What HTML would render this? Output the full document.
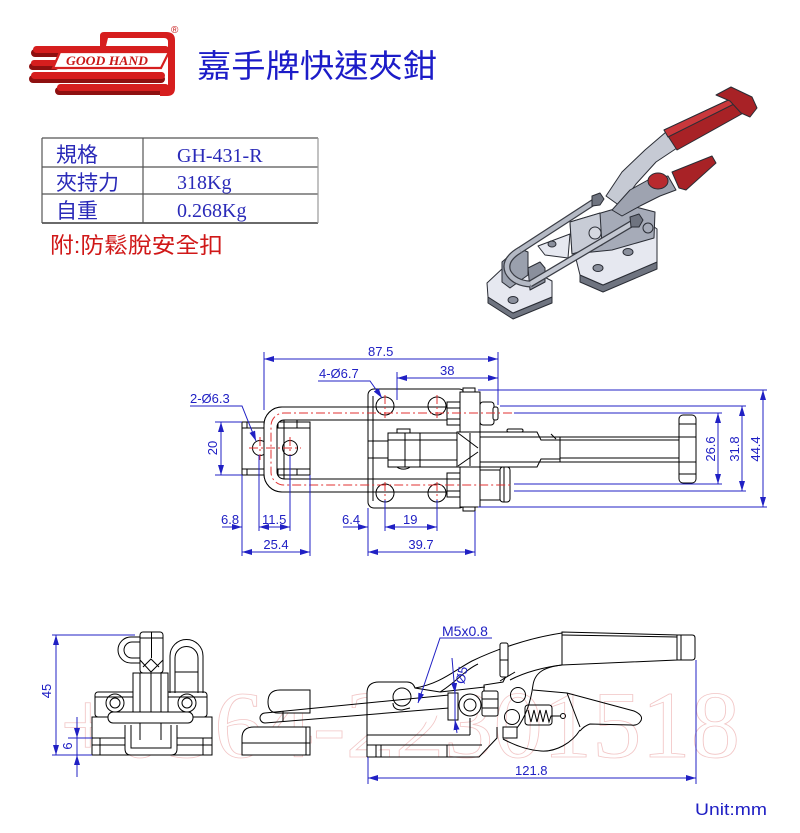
<!DOCTYPE html>
<html><head><meta charset="utf-8"><style>
html,body{margin:0;padding:0;background:#fff;}
svg{display:block;}
.d{font-family:"Liberation Sans",sans-serif;font-size:13px;fill:#2020c4;}
</style></head><body>
<svg width="800" height="833" viewBox="0 0 800 833" xmlns="http://www.w3.org/2000/svg">
<defs>
<marker id="a" viewBox="0 0 10 6" refX="10" refY="3" markerWidth="10" markerHeight="6" markerUnits="userSpaceOnUse" orient="auto-start-reverse"><path d="M0,0 L10,3 L0,6 Z" fill="#2020c4"/></marker>
</defs>
<rect width="800" height="833" fill="#fff"/>

<!-- faint watermark digits -->
<text x="60" y="757" font-family="Liberation Serif,serif" font-size="95" fill="none" stroke="#f2c6c6" stroke-width="0.8" textLength="680" lengthAdjust="spacingAndGlyphs">+0564-22301518</text>

<!-- LOGO -->
<g>
 <g fill="#8e1010">
  <rect x="31" y="49" width="138" height="8" rx="4"/>
  <rect x="29" y="63" width="30" height="7" rx="3.5"/>
  <rect x="29" y="75" width="136" height="8" rx="4"/>
  <rect x="55" y="87" width="114" height="8" rx="4"/>
 </g>
 <g fill="#d61e1e">
  <rect x="33" y="46" width="136" height="7" rx="3.5"/>
  <rect x="31" y="60" width="28" height="6" rx="3"/>
  <rect x="31" y="72" width="134" height="7" rx="3.5"/>
  <rect x="57" y="84" width="112" height="7" rx="3.5"/>
  <path d="M100,46 L100,36 Q100,32 104,32 L166,32 Q175,32 175,40 L175,88 Q175,96 167,96 L160,96 L160,90 L168,88 L168,42 Q168,38 164,38 L108,38 L106,46 Z"/>
 </g>
 <path d="M60,52 L169,52 L161,68 L53,68 Z" fill="#fff" stroke="#d61e1e" stroke-width="2.2"/>
 <text x="66" y="65" font-family="Liberation Serif,serif" font-style="italic" font-weight="bold" font-size="12.5" fill="#c81818" textLength="82" lengthAdjust="spacingAndGlyphs">GOOD HAND</text>
 <text x="171" y="33" font-family="Liberation Sans,sans-serif" font-size="10" fill="#c81818">®</text>
</g>
<text x="197" y="77" font-family="'Liberation Sans','Noto Sans CJK TC',sans-serif" font-size="32" fill="#1c1cc8" textLength="240" lengthAdjust="spacingAndGlyphs">嘉手牌快速夾鉗</text>

<!-- TABLE -->
<g stroke="#555" stroke-width="1.2" fill="none">
 <line x1="42" y1="138" x2="318" y2="138"/>
 <line x1="42" y1="167" x2="318" y2="167"/>
 <line x1="42" y1="194" x2="318" y2="194"/>
 <line x1="42" y1="223" x2="318" y2="223" stroke-width="1.8"/>
 <line x1="42" y1="138" x2="42" y2="223"/>
 <line x1="143" y1="138" x2="143" y2="223"/>
 <line x1="318" y1="138" x2="318" y2="223" stroke="#999"/>
</g>
<g font-family="'Liberation Sans','Noto Sans CJK TC',sans-serif" font-size="21" fill="#2a2ab8">
 <text x="56" y="162">規格</text>
 <text x="56" y="190">夾持力</text>
 <text x="56" y="218">自重</text>
</g>
<g font-family="'Liberation Serif',serif" font-size="20" fill="#2a2ab8">
 <text x="177" y="162">GH-431-R</text>
 <text x="177" y="189">318Kg</text>
 <text x="177" y="217">0.268Kg</text>
</g>
<text x="50" y="253" font-family="'Liberation Sans','Noto Sans CJK TC',sans-serif" font-size="22" fill="#d01818" textLength="173" lengthAdjust="spacingAndGlyphs">附:防鬆脫安全扣</text>

<!-- PRODUCT 3D -->
<g stroke="#2a2d35" stroke-width="1" stroke-linejoin="round">
 <polygon points="580,275 603,285 657,262 657,269 603,292 580,282" fill="#6f7480"/>
 <polygon points="573,247 650,224 657,229 657,262 603,285 580,275" fill="#e6e8f0"/>
 <ellipse cx="598" cy="268" rx="5" ry="3.5" fill="#8a8f9c"/>
 <ellipse cx="628" cy="252" rx="5" ry="3.5" fill="#8a8f9c"/>
 <polygon points="538,246 570,234 568,258 545,255" fill="#e6e8f0"/>
 <ellipse cx="552" cy="244" rx="4" ry="3" fill="#8a8f9c"/>
 <polygon points="570,222 628,205 655,212 654,238 612,250 572,254" fill="#a6abb8"/>
 <polygon points="570,222 600,213 602,245 572,254" fill="#c8ccd6"/>
 <polygon points="488,297 513,313 552,297 552,303 513,319 488,303" fill="#6f7480"/>
 <polygon points="487,283 503,268 527,268 552,281 552,297 513,313 488,297" fill="#e6e8f0"/>
 <ellipse cx="513" cy="300" rx="5" ry="3.5" fill="#8a8f9c"/>
 <polygon points="502,262 518,248 528,252 528,275 510,288 502,282" fill="#9aa0ad"/>
 <polygon points="528,268 540,262 545,268 545,282 530,290" fill="#8a8f9c"/>
 <!-- rods -->
 <path d="M520,250 L597,200" stroke="#3a3d45" stroke-width="7" fill="none"/>
 <path d="M520,250 L597,200" stroke="#b4b9c4" stroke-width="4.5" fill="none"/>
 <path d="M530,284 L638,220" stroke="#3a3d45" stroke-width="7" fill="none"/>
 <path d="M530,284 L638,220" stroke="#c4c8d2" stroke-width="4.5" fill="none"/>
 <path d="M520,250 Q503,260 508,272 Q514,283 530,284" stroke="#3a3d45" stroke-width="7" fill="none"/>
 <path d="M520,250 Q503,260 508,272 Q514,283 530,284" stroke="#b4b9c4" stroke-width="4.5" fill="none"/>
 <polygon points="592,196 600,193 604,199 600,205 592,206" fill="#6f7480"/>
 <polygon points="630,217 639,214 643,220 639,227 631,227" fill="#6f7480"/>
 <circle cx="595" cy="233" r="6" fill="#d5d8e0"/>
 <circle cx="648" cy="228" r="5" fill="#a6abb8"/>
 <!-- arm -->
 <polygon points="606,196 622,172 645,150 666,132 677,148 656,162 636,184 620,206" fill="#c6cad4"/>
 <polygon points="612,210 630,190 648,180 668,176 676,190 660,196 640,206 622,216" fill="#9ea3b0"/>
 <!-- red grips -->
 <polygon points="664,130 737,96 747,111 677,150" fill="#a82226"/>
 <polygon points="664,130 737,96 740,101 668,137" fill="#c9383c"/>
 <polygon points="716,95 731,87 752,97 757,108 750,117 741,113 730,101" fill="#a82226"/>
 <polygon points="672,172 712,156 716,163 686,190 679,188" fill="#a82226"/>
 <ellipse cx="658" cy="181" rx="10" ry="8" fill="#b82a2e"/>
</g>

<!-- TOP VIEW -->
<g stroke="#000" stroke-width="1" fill="none">
 <!-- left plate -->
 <rect x="242" y="422" width="68" height="53" fill="#fff"/>
 <line x1="242" y1="428" x2="310" y2="428"/>
 <line x1="242" y1="469" x2="310" y2="469"/>
 <line x1="247" y1="422" x2="247" y2="428"/><line x1="278" y1="422" x2="278" y2="428"/><line x1="297" y1="422" x2="297" y2="428"/>
 <line x1="247" y1="469" x2="247" y2="475"/><line x1="278" y1="469" x2="278" y2="475"/><line x1="297" y1="469" x2="297" y2="475"/>
 <circle cx="260" cy="448" r="7.5" fill="#fff"/>
 <circle cx="290" cy="448" r="7.5" fill="#fff"/>
 <!-- right body plate -->
 <rect x="368" y="389" width="97" height="119" rx="6" fill="#fff"/>
 <line x1="373" y1="396" x2="373" y2="501"/>
 <circle cx="385" cy="406" r="9"/>
 <circle cx="437" cy="406" r="9"/>
 <circle cx="385" cy="493" r="9"/>
 <circle cx="437" cy="493" r="9"/>
 <line x1="368" y1="441" x2="388" y2="441"/>
 <line x1="368" y1="458" x2="388" y2="458"/>
 <!-- U rod band -->
 <path d="M450,407 L282,407 A18,18 0 0 0 264,425 L264,474 A18,18 0 0 0 282,492 L450,492 L450,479 L284,479 A7,7 0 0 1 277,472 L277,427 A7,7 0 0 1 284,420 L450,420 Z" fill="#fff" fill-opacity="0.0"/>
 <path d="M368,407 L282,407 A18,18 0 0 0 264,425 L264,474 A18,18 0 0 0 282,492 L368,492 L368,479 L284,479 A7,7 0 0 1 277,472 L277,427 A7,7 0 0 1 284,420 L368,420 Z" fill="#fff"/>
 <line x1="368" y1="407" x2="447" y2="407"/>
 <line x1="368" y1="420" x2="447" y2="420"/>
 <line x1="368" y1="479" x2="447" y2="479"/>
 <line x1="368" y1="492" x2="447" y2="492"/>
 <line x1="284" y1="420" x2="284" y2="479"/>
 <line x1="297" y1="420" x2="297" y2="428"/>
 <!-- center arm -->
 <rect x="388" y="433" width="69" height="34" fill="#fff"/>
 <line x1="405" y1="433" x2="405" y2="467"/>
 <line x1="420" y1="433" x2="420" y2="467"/>
 <line x1="388" y1="440" x2="457" y2="440"/>
 <line x1="388" y1="460" x2="457" y2="460"/>
 <path d="M397,433 L397,429 L410,429 L410,433"/>
 <path d="M397,467 A8,5 0 0 0 410,467"/>
 <!-- flange -->
 <rect x="460" y="392" width="20" height="115" fill="#fff"/>
 <rect x="463" y="388" width="12" height="4" fill="#fff"/>
 <rect x="463" y="507" width="12" height="4" fill="#fff"/>
 <!-- nuts -->
 <rect x="447" y="402" width="13" height="23" fill="#fff"/>
 <line x1="447" y1="408" x2="460" y2="408"/><line x1="447" y1="419" x2="460" y2="419"/>
 <rect x="447" y="473" width="13" height="24" fill="#fff"/>
 <line x1="447" y1="479" x2="460" y2="479"/><line x1="447" y1="491" x2="460" y2="491"/>
 <rect x="480" y="402" width="14" height="23" rx="3" fill="#fff"/>
 <rect x="493" y="407" width="5" height="13" rx="2" fill="#fff"/>
 <!-- cone -->
 <rect x="457" y="432" width="23" height="35" fill="#fff"/>
 <path d="M458,433 L478,448 M458,466 L478,452 M470,433 L470,466"/>
 <!-- shaft -->
 <path d="M480,432 L537,432 L541,440 L560,440 M480,467 L537,467 L541,459 L560,459" />
 <line x1="480" y1="437" x2="560" y2="437"/>
 <line x1="480" y1="462" x2="560" y2="462"/>
 <rect x="507" y="429" width="16" height="3" rx="1.5"/>
 <line x1="551" y1="434" x2="556" y2="439"/>
 <!-- handle -->
 <rect x="560" y="437" width="120" height="25" fill="#fff"/>
 <line x1="560" y1="440" x2="680" y2="440"/>
 <line x1="560" y1="458" x2="680" y2="458"/>
 <rect x="679" y="415" width="17" height="68" rx="4" fill="#fff"/>
 <line x1="679" y1="424" x2="696" y2="424"/><line x1="679" y1="474" x2="696" y2="474"/>
 <line x1="679" y1="437" x2="696" y2="437"/><line x1="679" y1="462" x2="696" y2="462"/>
 <!-- bottom lever -->
 <rect x="480" y="470" width="20" height="30" fill="#fff"/>
 <rect x="500" y="467" width="10" height="35" rx="3" fill="#fff"/>
 <line x1="504" y1="467" x2="504" y2="502"/>
</g>
<!-- red centerlines -->
<g stroke="#e03232" stroke-width="1" fill="none" stroke-dasharray="9,3,2,3">
 <path d="M512,413 L285,413 A13,13 0 0 0 271,426 L271,472 A13,13 0 0 0 285,485 L512,485"/>
 <line x1="249" y1="448" x2="301" y2="448"/>
 <line x1="260" y1="437" x2="260" y2="460"/>
 <line x1="290" y1="437" x2="290" y2="460"/>
 <line x1="385" y1="395" x2="385" y2="418"/>
 <line x1="437" y1="395" x2="437" y2="418"/>
 <line x1="385" y1="482" x2="385" y2="505"/>
 <line x1="437" y1="482" x2="437" y2="505"/>
</g>
<!-- top view dims -->
<g stroke="#2020c4" stroke-width="1" fill="none">
 <line x1="264" y1="352" x2="264" y2="410"/>
 <line x1="498" y1="352" x2="498" y2="405"/>
 <line x1="264" y1="359" x2="498" y2="359" marker-start="url(#a)" marker-end="url(#a)"/>
 <line x1="397" y1="372" x2="397" y2="400"/>
 <line x1="397" y1="378" x2="498" y2="378" marker-start="url(#a)" marker-end="url(#a)"/>
 <path d="M318,381 L370,381 L382,398" marker-end="url(#a)"/>
 <path d="M190,406 L242,406 L256,441" marker-end="url(#a)"/>
 <line x1="215" y1="422" x2="242" y2="422"/>
 <line x1="215" y1="475" x2="242" y2="475"/>
 <line x1="221" y1="422" x2="221" y2="475" marker-start="url(#a)" marker-end="url(#a)"/>
 <line x1="242" y1="475" x2="242" y2="556"/>
 <line x1="259" y1="455" x2="259" y2="531"/>
 <line x1="290" y1="455" x2="290" y2="531"/>
 <line x1="310" y1="475" x2="310" y2="556"/>
 <line x1="368" y1="508" x2="368" y2="556"/>
 <line x1="385" y1="500" x2="385" y2="531"/>
 <line x1="437" y1="500" x2="437" y2="531"/>
 <line x1="475" y1="511" x2="475" y2="556"/>
 <line x1="222" y1="527" x2="242" y2="527" marker-end="url(#a)"/>
 <line x1="259" y1="527" x2="290" y2="527" marker-start="url(#a)" marker-end="url(#a)"/>
 <line x1="343" y1="527" x2="368" y2="527" marker-end="url(#a)"/>
 <line x1="385" y1="527" x2="437" y2="527" marker-start="url(#a)" marker-end="url(#a)"/>
 <line x1="242" y1="552" x2="310" y2="552" marker-start="url(#a)" marker-end="url(#a)"/>
 <line x1="368" y1="552" x2="475" y2="552" marker-start="url(#a)" marker-end="url(#a)"/>
 <line x1="478" y1="390" x2="767" y2="390"/>
 <line x1="478" y1="507" x2="767" y2="507"/>
 <line x1="500" y1="406" x2="746" y2="406"/>
 <line x1="514" y1="491" x2="746" y2="491"/>
 <line x1="514" y1="413" x2="722" y2="413"/>
 <line x1="514" y1="484" x2="722" y2="484"/>
 <line x1="718" y1="413" x2="718" y2="484" marker-start="url(#a)" marker-end="url(#a)"/>
 <line x1="742" y1="406" x2="742" y2="491" marker-start="url(#a)" marker-end="url(#a)"/>
 <line x1="763" y1="390" x2="763" y2="507" marker-start="url(#a)" marker-end="url(#a)"/>
</g>
<g class="d">
 <text x="368" y="356">87.5</text>
 <text x="440" y="375">38</text>
 <text x="319" y="378">4-Ø6.7</text>
 <text x="190" y="403">2-Ø6.3</text>
 <text x="217" y="448" transform="rotate(-90 217 448)" text-anchor="middle">20</text>
 <text x="221" y="524">6.8</text>
 <text x="262" y="524">11.5</text>
 <text x="342" y="524">6.4</text>
 <text x="403" y="524">19</text>
 <text x="276" y="549" text-anchor="middle">25.4</text>
 <text x="421" y="549" text-anchor="middle">39.7</text>
 <text x="715" y="449" transform="rotate(-90 715 449)" text-anchor="middle">26.6</text>
 <text x="739" y="449" transform="rotate(-90 739 449)" text-anchor="middle">31.8</text>
 <text x="760" y="449" transform="rotate(-90 760 449)" text-anchor="middle">44.4</text>
</g>

<!-- FRONT VIEW (bottom left) -->
<g stroke="#000" stroke-width="1" fill="none">
 <rect x="92" y="717" width="120" height="38" fill="#fff"/>
 <line x1="92" y1="738" x2="212" y2="738"/>
 <line x1="92" y1="745" x2="212" y2="745"/>
 <line x1="100" y1="738" x2="100" y2="755"/>
 <line x1="203" y1="738" x2="203" y2="755"/>
 <rect x="95" y="692" width="112" height="25" rx="3" fill="#fff"/>
 <line x1="95" y1="697" x2="207" y2="697"/>
 <circle cx="115" cy="703" r="9"/><circle cx="115" cy="703" r="5"/>
 <circle cx="187" cy="703" r="9"/><circle cx="187" cy="703" r="5"/>
 <rect x="133" y="673" width="35" height="40" fill="#fff"/>
 <line x1="140" y1="673" x2="140" y2="713"/><line x1="151" y1="673" x2="151" y2="713"/><line x1="161" y1="673" x2="161" y2="713"/>
 <rect x="108" y="712" width="85" height="11" rx="5" fill="#fff"/>
 <path d="M140,637 L131,637 A13,13 0 0 0 118,650 A13,13 0 0 0 131,663 L140,663"/>
 <path d="M140,642 L132,642 A8,8 0 0 0 124,650 A8,8 0 0 0 132,658 L140,658"/>
 <rect x="140" y="632" width="23" height="41" rx="3" fill="#fff"/>
 <line x1="151.5" y1="632" x2="151.5" y2="658"/>
 <path d="M140,660 L151,672 L163,660 M143,667 L151,659 L159,667"/>
 <line x1="140" y1="638" x2="163" y2="638"/>
 <path d="M170,693 L170,656 A16.5,16.5 0 0 1 203,656 L203,693"/>
 <path d="M175,693 L175,658 A11.5,11.5 0 0 1 198,658 L198,693"/>
 <line x1="175" y1="672" x2="198" y2="672"/>
 <path d="M125,725 L125,749 Q125,755 131,755 L171,755 Q177,755 177,749 L177,725" fill="#fff"/>
 <path d="M131,725 L131,748 L171,748 L171,725"/>
 <line x1="140" y1="723" x2="140" y2="740"/><line x1="161" y1="723" x2="161" y2="740"/>
</g>
<g stroke="#2020c4" stroke-width="1" fill="none">
 <line x1="52" y1="635" x2="135" y2="635"/>
 <line x1="52" y1="755" x2="92" y2="755"/>
 <line x1="56" y1="635" x2="56" y2="755" marker-start="url(#a)" marker-end="url(#a)"/>
 <line x1="68" y1="738" x2="92" y2="738"/>
 <line x1="77" y1="717" x2="77" y2="738" marker-end="url(#a)"/>
 <line x1="77" y1="777" x2="77" y2="755" marker-end="url(#a)"/>
 <line x1="77" y1="738" x2="77" y2="755"/>
</g>
<g class="d">
 <text x="51" y="691" transform="rotate(-90 51 691)" text-anchor="middle">45</text>
 <text x="72" y="746" transform="rotate(-90 72 746)" text-anchor="middle">6</text>
</g>

<!-- SIDE VIEW -->
<g stroke="#000" stroke-width="1" fill="none">
 <path d="M242,755 L242,738 Q242,727 254,727 L310,727 L310,755 Z" fill="#fff"/>
 <line x1="242" y1="743" x2="310" y2="743"/>
 <line x1="306" y1="727" x2="306" y2="755"/>
 <path d="M310,713 L278,713 Q268,713 268,702 Q268,690 280,690 L310,690 Z" fill="#fff"/>
 <!-- main body -->
 <path d="M367,757 L367,693 Q367,682 379,682 L407,682 Q413,682 415,688 L440,692 L485,687" fill="#fff"/>
 <path d="M367,757 L479,757 L497,738 L497,727"/>
 <line x1="367" y1="735" x2="470" y2="735"/>
 <line x1="470" y1="718" x2="470" y2="735"/>
 <line x1="367" y1="745" x2="482" y2="745"/>
 <line x1="376" y1="745" x2="376" y2="757"/><line x1="381" y1="745" x2="381" y2="757"/>
 <line x1="447" y1="745" x2="447" y2="757"/>
 <circle cx="402" cy="697" r="9"/>
 <path d="M393,703 Q393,710 402,710 L410,708"/>
 <!-- rod -->
 <path d="M265,713 L449,695 M265,723 L449,708"/>
 <path d="M265,713 A5,5 0 0 0 265,723"/>
 <line x1="283" y1="711" x2="283" y2="721"/>
 <rect x="448" y="693" width="10" height="27" fill="#fff"/>
 <circle cx="470" cy="705" r="11" fill="#fff"/>
 <circle cx="470" cy="705" r="6"/>
 <rect x="482" y="691" width="16" height="25" rx="2" fill="#fff"/>
 <line x1="482" y1="699" x2="498" y2="699"/><line x1="482" y1="708" x2="498" y2="708"/>
 <!-- arm -->
 <path d="M415,688 C440,684 455,670 472,661 C495,650 528,638 562,633"/>
 <path d="M440,692 C455,683 465,670 478,664"/>
 <path d="M562,665 C545,667 535,672 533,685 C531,700 527,715 517,728"/>
 <path d="M510,680 C525,672 545,667 562,665"/>
 <path d="M500,681 C508,676 512,674 515,672"/>
 <path d="M484,691 L484,685 L503,682 L506,676"/>
 <rect x="500" y="643" width="8" height="34" rx="2" fill="#fff"/>
 <line x1="500" y1="660" x2="508" y2="660"/>
 <circle cx="518" cy="695" r="7.5"/>
 <circle cx="512" cy="717" r="7.5"/>
 <!-- handle -->
 <polygon points="562,632 677,635 677,660 562,665" fill="#fff"/>
 <line x1="562" y1="635" x2="677" y2="637"/>
 <path d="M677,635 L692,635 Q695,635 695,638 L695,657 Q695,660 692,660 L677,660 Z" fill="#fff"/>
 <line x1="681" y1="635" x2="681" y2="660"/>
 <!-- lever -->
 <path d="M533,690 L567,693 L634,711 Q645,716 640,722 Q637,726 631,725 L590,724 Q584,726 580,731"/>
 <path d="M567,693 L580,727"/>
 <path d="M580,730 C572,743 556,752 541,751 C526,750 514,745 503,739"/>
 <!-- spring -->
 <rect x="525" y="705" width="27" height="20" rx="3"/>
 <path d="M528,710 L531,722 L534,710 L537,722 L540,710 L543,722 L546,710 L549,722 L551,716 L560,716"/>
 <circle cx="563" cy="716" r="2.5"/>
 <rect x="503" y="727" width="14" height="11" fill="#fff"/>
</g>
<g stroke="#2020c4" stroke-width="1" fill="none">
 <line x1="368" y1="757" x2="368" y2="784"/>
 <line x1="696" y1="660" x2="696" y2="784"/>
 <line x1="368" y1="778" x2="696" y2="778" marker-start="url(#a)" marker-end="url(#a)"/>
 <path d="M492,638 L440,638 L418,703" marker-end="url(#a)"/>
 <line x1="452" y1="658" x2="455" y2="693" marker-end="url(#a)"/>
 <line x1="457" y1="733" x2="455" y2="720" marker-end="url(#a)"/>
 <line x1="455" y1="693" x2="455" y2="720"/>
</g>
<g class="d">
 <text x="442" y="636" font-size="14">M5x0.8</text>
 <text x="466" y="676" transform="rotate(-78 466 676)" text-anchor="middle">Ø5</text>
 <text x="515" y="775">121.8</text>
 <text x="695" y="815" font-size="17" textLength="72" lengthAdjust="spacingAndGlyphs">Unit:mm</text>
</g>
</svg>
</body></html>
